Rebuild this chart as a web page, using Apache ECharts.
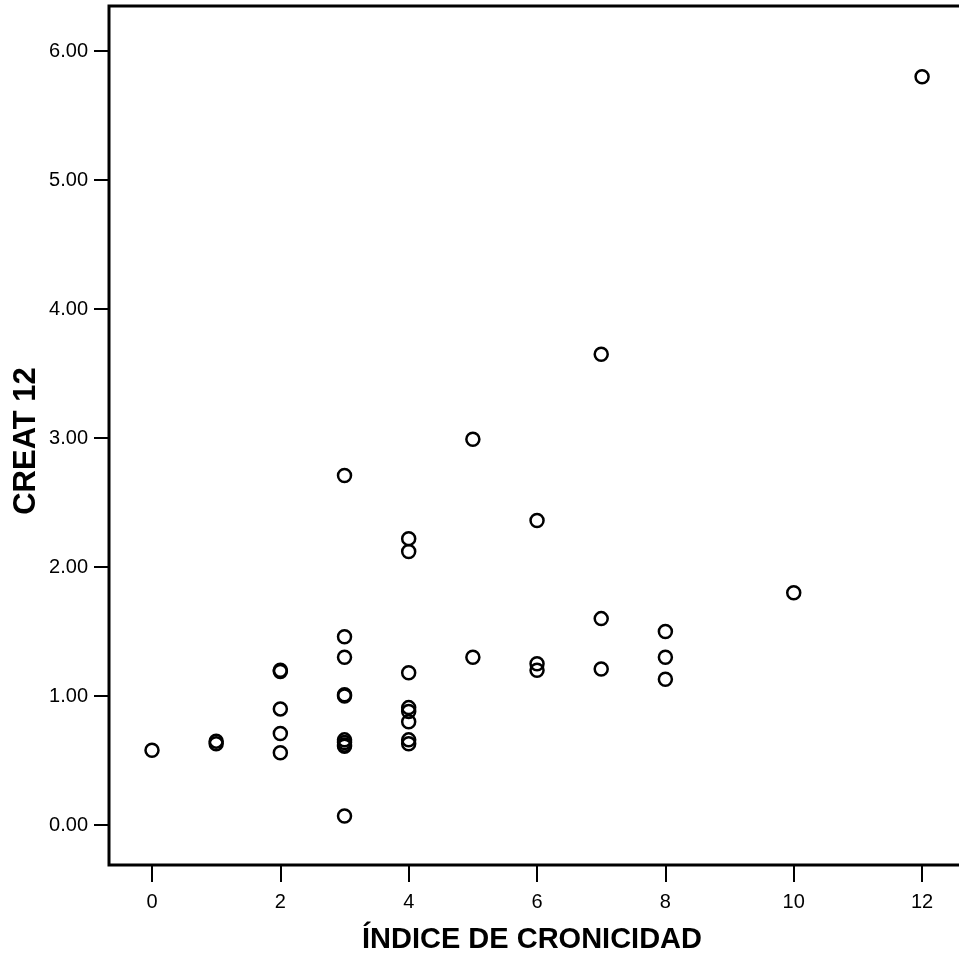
<!DOCTYPE html>
<html>
<head>
<meta charset="utf-8">
<script src="https://cdn.jsdelivr.net/npm/echarts@6/dist/echarts.min.js"></script>
<style>
html,body{margin:0;padding:0;background:#fff;}
#chart{width:959px;height:956px;}
</style>
</head>
<body>
<div id="chart"></div>
<script>
// Índice de cronicidad (x) and CREAT 12 (y)
const indiceCronicidad = [0, 1, 1, 2, 2, 2, 2, 2, 3, 3, 3, 3, 3, 3, 3, 3, 3, 3, 4, 4, 4, 4, 4, 4, 4, 4, 5, 5, 6, 6, 6, 7, 7, 7, 8, 8, 8, 10, 12];
const creat12 = [0.58, 0.65, 0.63, 1.20, 1.19, 0.90, 0.71, 0.56, 2.71, 1.46, 1.30, 1.01, 1.00, 0.66, 0.64, 0.62, 0.61, 0.07, 2.22, 2.12, 1.18, 0.91, 0.88, 0.80, 0.66, 0.63, 2.99, 1.30, 2.36, 1.25, 1.20, 3.65, 1.60, 1.21, 1.50, 1.30, 1.13, 1.80, 5.80];
const xTicks = [0, 2, 4, 6, 8, 10, 12];
const yTicks = [0, 1, 2, 3, 4, 5, 6];
const xTitle = 'ÍNDICE DE CRONICIDAD';
const yTitle = 'CREAT 12';

const points = indiceCronicidad.map((x, i) => [x, creat12[i]]);
const chart = echarts.init(document.getElementById('chart'), null, {renderer: 'canvas'});
const FONT = '"Liberation Sans", Arial, sans-serif';
chart.setOption({
  animation: false,
  backgroundColor: '#fff',
  grid: {left: 109, top: 6, width: 858, height: 859, show: true, borderColor: '#000', borderWidth: 3,
    backgroundColor: 'transparent', containLabel: false, outerBoundsMode: 'none'},
  graphic: [
    {type: 'text', x: 532, y: 940, style: {text: xTitle, font: 'bold 29px ' + FONT, fill: '#000', align: 'center', verticalAlign: 'middle'}},
    {type: 'text', x: 26, y: 441, rotation: Math.PI / 2, style: {text: yTitle, font: 'bold 31px ' + FONT, fill: '#000', align: 'center', verticalAlign: 'middle'}}
  ],
  xAxis: {
    type: 'value', min: -0.67, max: 12.7,
    axisLine: {show: false, onZero: false},
    splitLine: {show: false},
    axisTick: {show: true, customValues: xTicks, length: 17, lineStyle: {color: '#000', width: 2}},
    axisLabel: {customValues: xTicks, margin: 27, fontFamily: FONT, fontSize: 20, color: '#000'}
  },
  yAxis: {
    type: 'value', min: -0.31, max: 6.349,
    axisLine: {show: false, onZero: false},
    splitLine: {show: false},
    axisTick: {show: true, customValues: yTicks, length: 15, lineStyle: {color: '#000', width: 2}},
    axisLabel: {customValues: yTicks, margin: 21, fontFamily: FONT, fontSize: 20, color: '#000',
      formatter: v => v.toFixed(2)}
  },
  series: [{
    type: 'scatter',
    data: points,
    symbol: 'circle',
    symbolSize: 13,
    itemStyle: {color: 'rgba(0,0,0,0)', borderColor: '#000', borderWidth: 2.5, opacity: 1},
    emphasis: {disabled: true}
  }]
});
</script>
</body>
</html>
